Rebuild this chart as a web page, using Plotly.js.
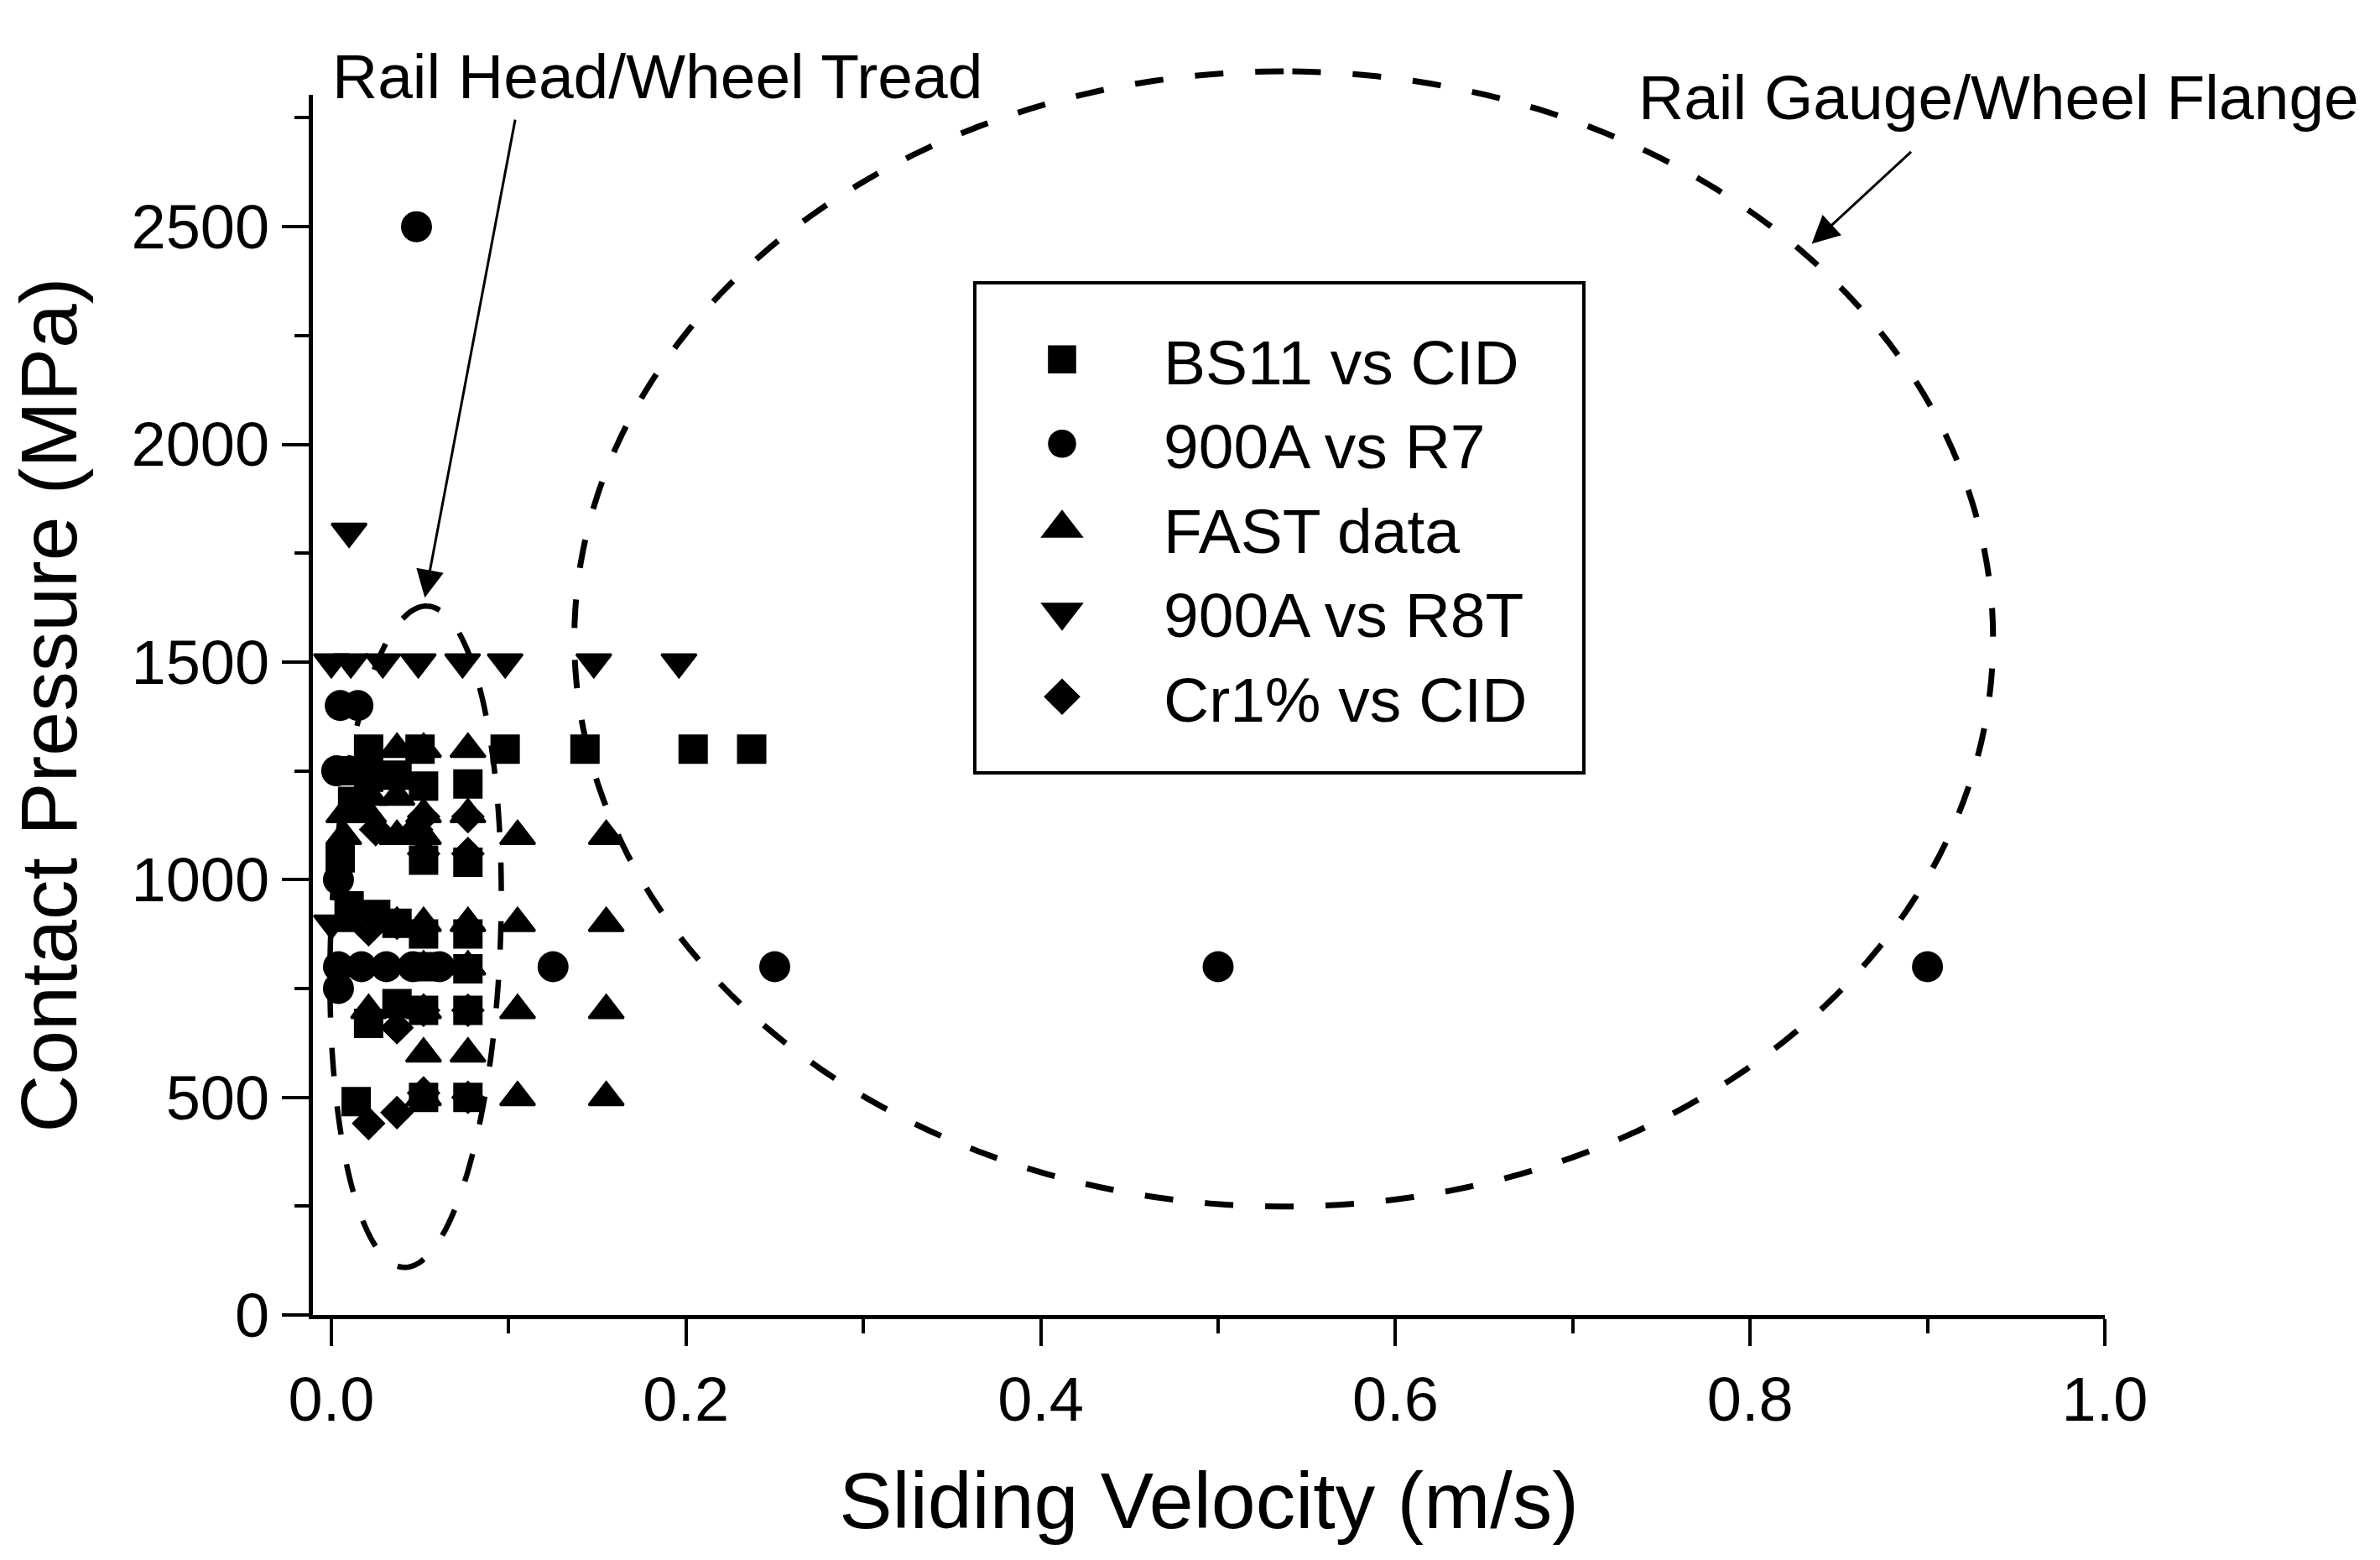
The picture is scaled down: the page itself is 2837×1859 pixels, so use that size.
<!DOCTYPE html>
<html><head><meta charset="utf-8">
<script src="https://cdn.plot.ly/plotly-3.0.1.min.js"></script>
<style>html,body{margin:0;padding:0;background:#fff}</style>
</head><body>
<div id="chart" style="width:2837px;height:1859px"></div>
<script>
// ---- data (sliding velocity m/s, contact pressure MPa) ----
const seriesNames = ['BS11 vs CID', '900A vs R7', 'FAST data', '900A vs R8T', 'Cr1% vs CID'];

const bs11_x = [0.021, 0.05, 0.098, 0.143, 0.204, 0.237, 0.01, 0.021, 0.037, 0.052, 0.077, 0.012, 0.005, 0.052, 0.077, 0.01, 0.025, 0.037, 0.052, 0.077, 0.052, 0.077, 0.021, 0.037, 0.052, 0.077, 0.014, 0.052, 0.077];
const bs11_y = [1300, 1300, 1300, 1300, 1300, 1300, 1250, 1235, 1240, 1215, 1220, 1180, 1050, 1045, 1040, 940, 920, 900, 875, 875, 800, 795, 670, 715, 700, 700, 490, 500, 500];

const r7_x = [0.048, 0.005, 0.015, 0.003, 0.004, 0.004, 0.017, 0.031, 0.046, 0.061, 0.125, 0.25, 0.5, 0.9, 0.004];
const r7_y = [2500, 1400, 1400, 1250, 1000, 800, 800, 800, 800, 800, 800, 800, 800, 800, 750];

const fast_x = [0.037, 0.052, 0.077, 0.022, 0.037, 0.007, 0.021, 0.052, 0.077, 0.007, 0.037, 0.052, 0.105, 0.155, 0.01, 0.037, 0.052, 0.077, 0.105, 0.155, 0.052, 0.077, 0.021, 0.052, 0.105, 0.155, 0.052, 0.077, 0.052, 0.105, 0.155];
const fast_y = [1300, 1300, 1300, 1190, 1190, 1150, 1150, 1150, 1150, 1100, 1100, 1100, 1100, 1100, 900, 900, 900, 900, 900, 900, 800, 800, 700, 700, 700, 700, 600, 600, 500, 500, 500];

const r8t_x = [0.01, 0.0, 0.011, 0.029, 0.049, 0.074, 0.098, 0.148, 0.196, 0.0];
const r8t_y = [1800, 1500, 1500, 1500, 1500, 1500, 1500, 1500, 1500, 900];

const cr_x = [0.021, 0.037, 0.052, 0.077, 0.021, 0.037, 0.052, 0.077, 0.021, 0.037, 0.077, 0.052, 0.077, 0.025, 0.048, 0.077, 0.052];
const cr_y = [440, 465, 510, 500, 690, 660, 700, 700, 885, 900, 890, 1060, 1060, 1115, 1115, 1145, 1145];

const xTickVals = [0, 0.2, 0.4, 0.6, 0.8, 1.0];
const yTickVals = [0, 500, 1000, 1500, 2000, 2500];

// region ellipses (data units; rotation in degrees, clockwise on screen)
const headEllipse = {cx: 0.0475, cy: 869, rx: 0.0479, ry: 760, rot: 2};
const gaugeEllipse = {cx: 0.537, cy: 1553, rx: 0.400, ry: 1304, rot: 0};

// ---- layout geometry ----
const W = 2837, H = 1859;
const M = {l: 373, r: 328, t: 113, b: 292};
const xRange = [-0.0104, 1.0], yRange = [0, 2803];
const plotW = W - M.l - M.r, plotH = H - M.t - M.b;
const FONT = 'Liberation Sans, Arial, sans-serif';

function ellipsePath(e) {
  const cx = (e.cx - xRange[0]) / (xRange[1] - xRange[0]) * plotW;
  const cy = (e.cy - yRange[0]) / (yRange[1] - yRange[0]) * plotH;
  const rx = e.rx / (xRange[1] - xRange[0]) * plotW;
  const ry = e.ry / (yRange[1] - yRange[0]) * plotH;
  const th = e.rot * Math.PI / 180;
  let d = '';
  const n = 240;
  for (let i = 0; i <= n; i++) {
    const t = Math.PI / 2 + i / n * 2 * Math.PI;
    const ex = rx * Math.cos(t), ey = ry * Math.sin(t);
    const px = cx + ex * Math.cos(th) + ey * Math.sin(th);
    const py = cy - ex * Math.sin(th) + ey * Math.cos(th);
    d += (i ? 'L' : 'M') + (px / plotW).toFixed(5) + ',' + (py / plotH).toFixed(5);
  }
  return d;
}
function pxToPaperX(px) { return (px - M.l) / plotW; }
function pxToPaperY(py) { return (H - M.b - py) / plotH; }

function mk(name, x, y, symbol, size, lw) {
  return {type: 'scatter', mode: 'markers', name: name, x: x, y: y, cliponaxis: false,
          marker: {symbol: symbol, size: size, color: '#000', line: {width: lw || 0, color: '#000'}}};
}
const traces = [
  mk(seriesNames[0], bs11_x, bs11_y, 'square', 35),
  mk(seriesNames[1], r7_x, r7_y, 'circle', 37),
  mk(seriesNames[2], fast_x, fast_y, 'triangle-up', 36, 3),
  mk(seriesNames[3], r8t_x, r8t_y, 'triangle-down', 36, 3),
  mk(seriesNames[4], cr_x, cr_y, 'diamond', 31)
];

const axisCommon = {
  showline: true, linewidth: 5, linecolor: '#000', mirror: false,
  showgrid: false, zeroline: false,
  ticks: 'outside', ticklen: 32, tickwidth: 4, tickcolor: '#000',
  tickfont: {family: FONT, size: 74, color: '#000'},
  automargin: false
};

const layout = {
  width: W, height: H,
  margin: {l: M.l, r: M.r, t: M.t, b: M.b, pad: 0},
  paper_bgcolor: '#fff', plot_bgcolor: '#fff',
  font: {family: FONT, color: '#000'},
  showlegend: true,
  xaxis: Object.assign({}, axisCommon, {
    range: xRange, tickmode: 'array', tickvals: xTickVals, tickformat: '.1f',
    minor: {dtick: 0.1, tick0: 0, ticks: 'outside', ticklen: 17, tickwidth: 4, tickcolor: '#000', showgrid: false},
    title: {text: 'Sliding Velocity (m/s)', font: {family: FONT, size: 95, color: '#000'}, standoff: 48}
  }),
  yaxis: Object.assign({}, axisCommon, {
    range: yRange, tickmode: 'array', tickvals: yTickVals,
    minor: {dtick: 250, tick0: 0, ticks: 'outside', ticklen: 17, tickwidth: 4, tickcolor: '#000', showgrid: false},
    title: {text: 'Contact Pressure (MPa)', font: {family: FONT, size: 95, color: '#000'}, standoff: 35}
  }),
  legend: {
    x: pxToPaperX(1145), y: pxToPaperY(373), xanchor: 'left', yanchor: 'top',
    bgcolor: 'rgba(0,0,0,0)', borderwidth: 0, itemwidth: 232,
    font: {family: FONT, size: 75, color: '#000'}
  },
  shapes: [
    {type: 'rect', xref: 'paper', yref: 'paper', layer: 'above',
     x0: pxToPaperX(1162), x1: pxToPaperX(1888), y0: pxToPaperY(921), y1: pxToPaperY(337),
     line: {color: '#000', width: 4}, fillcolor: 'rgba(0,0,0,0)'},
    {type: 'path', xref: 'paper', yref: 'paper', layer: 'above', path: ellipsePath(headEllipse),
     line: {color: '#000', width: 6.5, dash: '34px,36px'}},
    {type: 'path', xref: 'paper', yref: 'paper', layer: 'above', path: ellipsePath(gaugeEllipse),
     line: {color: '#000', width: 7, dash: '34px,38px'}}
  ],
  annotations: [
    {text: 'Rail Head/Wheel Tread', xref: 'paper', yref: 'paper', x: pxToPaperX(783), y: pxToPaperY(91),
     xanchor: 'center', yanchor: 'middle', showarrow: false, font: {family: FONT, size: 75, color: '#000'}},
    {text: 'Rail Gauge/Wheel Flange', xref: 'paper', yref: 'paper', x: pxToPaperX(2382), y: pxToPaperY(116),
     xanchor: 'center', yanchor: 'middle', showarrow: false, font: {family: FONT, size: 75, color: '#000'}},
    {text: '', xref: 'x', yref: 'y', x: 0.0527, y: 1648, ax: 108, ay: -571, showarrow: true,
     arrowhead: 2, arrowsize: 2.2, arrowwidth: 3, arrowcolor: '#000', standoff: 0},
    {text: '', xref: 'x', yref: 'y', x: 0.8347, y: 2461, ax: 120, ay: -111, showarrow: true,
     arrowhead: 2, arrowsize: 2.2, arrowwidth: 3, arrowcolor: '#000', standoff: 0}
  ]
};

Plotly.newPlot('chart', traces, layout, {displayModeBar: false, staticPlot: true}).then(function (gd) {
  gd.querySelectorAll('.legend .legendpoints path.scatterpts').forEach(function (p) {
    const t = p.getAttribute('transform') || '';
    p.setAttribute('transform', t + ' scale(2.1)');
  });
});
</script>
</body></html>
